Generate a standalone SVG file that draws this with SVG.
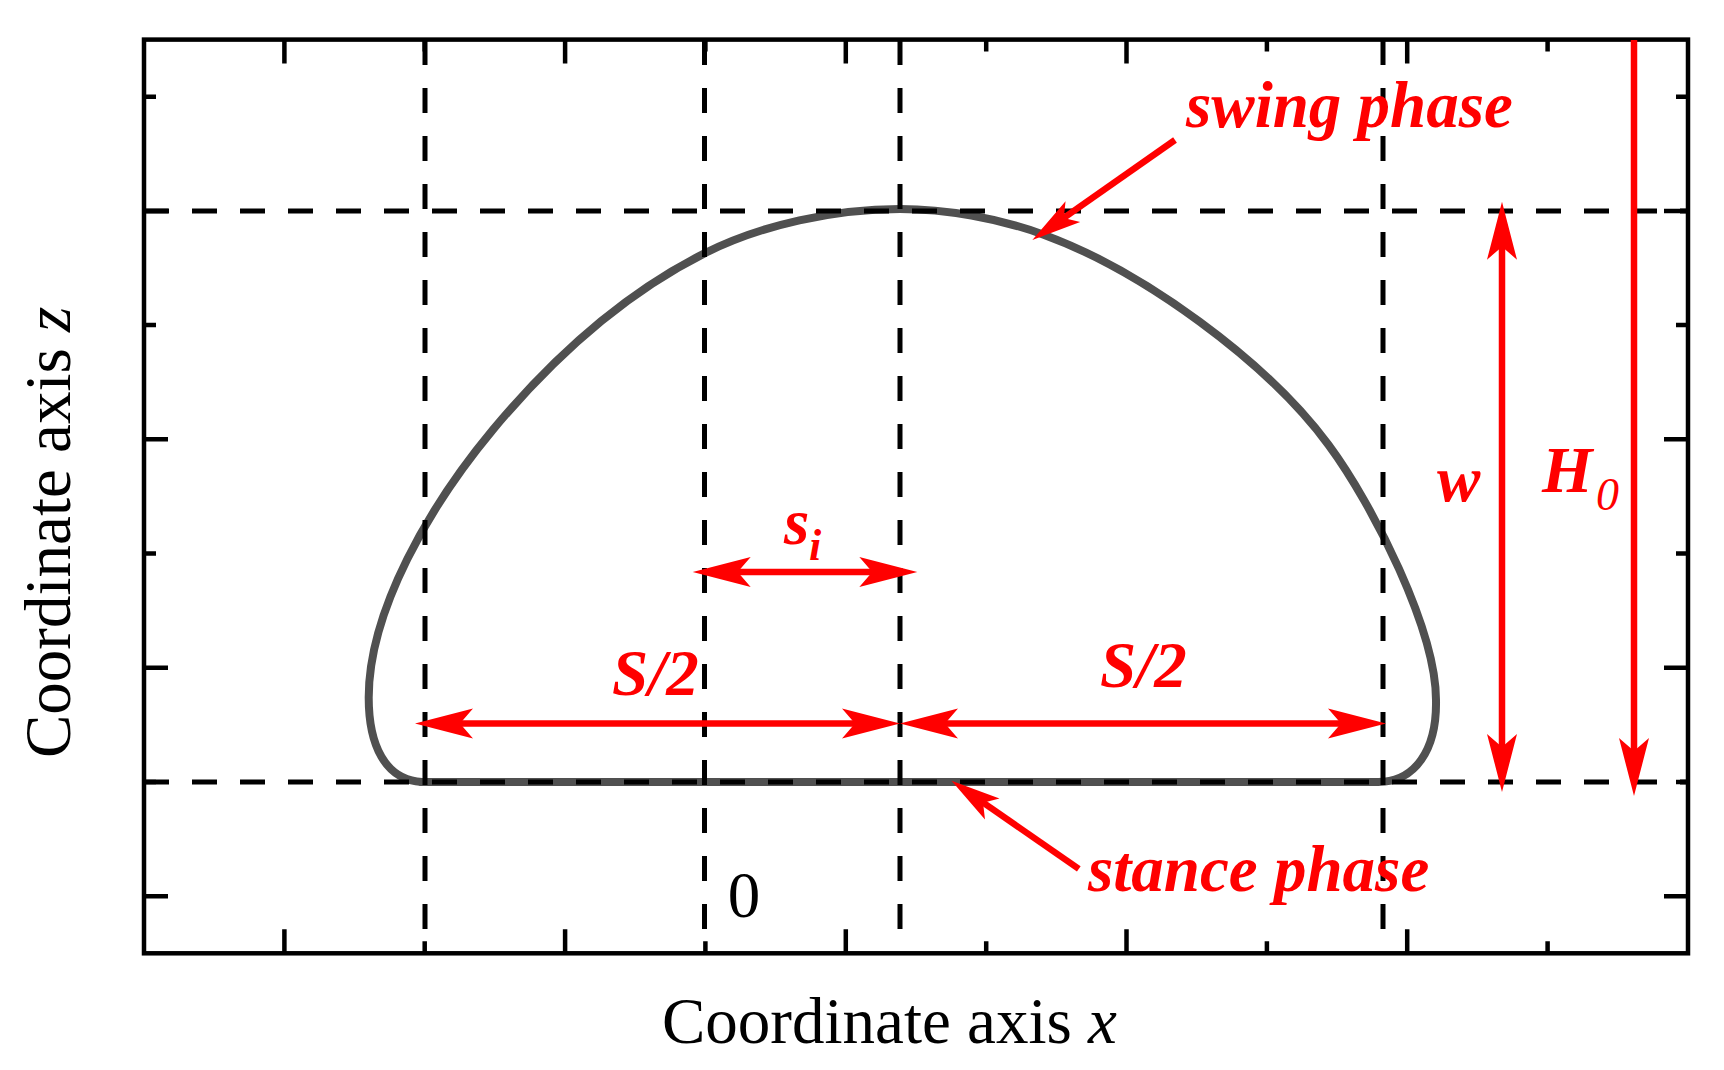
<svg xmlns="http://www.w3.org/2000/svg" width="1724" height="1070" viewBox="0 0 1724 1070">
<defs>
<style>
.tk{stroke:#000;stroke-width:4.5;fill:none}
.dash{stroke:#000;stroke-width:5;fill:none;stroke-dasharray:25 23}
.red{stroke:#ff0000;stroke-width:6.5;fill:none}
.lbl{font-family:"Liberation Serif","Times New Roman",serif;font-weight:bold;font-style:italic;fill:#ff0000;font-size:65px}
.ax{font-family:"Liberation Serif","Times New Roman",serif;fill:#000;font-size:65px}
</style>
<marker id="ah" viewBox="-20 -16 62 32" refX="0" refY="0" markerWidth="62" markerHeight="32" markerUnits="userSpaceOnUse" orient="auto-start-reverse">
<path d="M41,0 L-17,-15 L-4,0 L-17,15 Z" fill="#ff0000"/>
</marker>
<marker id="ptr" viewBox="-20 -16 62 32" refX="0" refY="0" markerWidth="62" markerHeight="32" markerUnits="userSpaceOnUse" orient="auto">
<path d="M35,0 L-14.5,-12.75 L-3.4,0 L-14.5,12.75 Z" fill="#ff0000"/>
</marker>
</defs>
<rect width="1724" height="1070" fill="#fff"/>

<g id="curve">
<path d="M420,782 L1378,782 C1415,782 1437,750 1436,700 C1436,630 1373.2,505.3 1328.6,445 C1266.1,360.6 1141.7,270.3 1043,234.4 C997.9,218 945,209 900,209 C835,209 762,224.4 704,253.6 C621.8,295 551.9,359 493,429.6 C430.3,504.9 368.7,610 368.7,697.5 C368.7,745 385,780 422,782 Z" fill="none" stroke="#505050" stroke-width="8" stroke-linejoin="round"/>
</g>

<g id="grid">
<line class="dash" x1="144" y1="211" x2="1688" y2="211"/>
<line class="dash" x1="144" y1="782" x2="1688" y2="782"/>
<line class="dash" x1="425" y1="40" x2="425" y2="953"/>
<line class="dash" x1="704.5" y1="40" x2="704.5" y2="953"/>
<line class="dash" x1="900" y1="40" x2="900" y2="953"/>
<line class="dash" x1="1383" y1="40" x2="1383" y2="953"/>
</g>

<g id="frame">
<rect class="tk" x="144" y="39.6" width="1544" height="913.7"/>
<path class="tk" d="M284.4,953.3v-24M565.1,953.3v-24M845.8,953.3v-24M1126.5,953.3v-24M1407.2,953.3v-24
M424.7,953.3v-12M705.4,953.3v-12M986.2,953.3v-12M1266.9,953.3v-12M1547.6,953.3v-12
M284.4,39.6v24M565.1,39.6v24M845.8,39.6v24M1126.5,39.6v24M1407.2,39.6v24
M424.7,39.6v12M705.4,39.6v12M986.2,39.6v12M1266.9,39.6v12M1547.6,39.6v12
M144,211h24M144,439.3h24M144,667.8h24M144,896.2h24
M144,96.7h12M144,325.1h12M144,553.5h12M144,782h12
M1688,211h-24M1688,439.3h-24M1688,667.8h-24M1688,896.2h-24
M1688,96.7h-12M1688,325.1h-12M1688,553.5h-12M1688,782h-12"/>
</g>

<g id="connectors">
<line id="arrow-S2-left" class="red" x1="456" y1="723.5" x2="859" y2="723.5" marker-start="url(#ah)" marker-end="url(#ah)"/>
<line id="arrow-S2-right" class="red" x1="941" y1="723.5" x2="1345" y2="723.5" marker-start="url(#ah)" marker-end="url(#ah)"/>
<line id="arrow-si" class="red" x1="733.7" y1="572" x2="876.3" y2="572" marker-start="url(#ah)" marker-end="url(#ah)"/>
<line id="arrow-w" class="red" x1="1502" y1="242.7" x2="1502" y2="751" marker-start="url(#ah)" marker-end="url(#ah)"/>
<line id="arrow-H0" class="red" x1="1634" y1="40" x2="1634" y2="755" marker-end="url(#ah)"/>
<line id="arrow-swing" class="red" x1="1175" y1="140" x2="1061" y2="219.9" marker-end="url(#ptr)"/>
<line id="arrow-stance" class="red" x1="1078.8" y1="868.8" x2="980.3" y2="800.7" marker-end="url(#ptr)"/>
</g>

<g id="labels">
<text id="t-swing" class="lbl" x="1186" y="127">swing phase</text>
<text id="t-stance" class="lbl" x="1088" y="891">stance phase</text>
<text id="t-S2-left" class="lbl" x="612" y="695">S/2</text>
<text id="t-S2-right" class="lbl" x="1100" y="687">S/2</text>
<text id="t-si" class="lbl" x="784" y="544">s<tspan x="809" y="560" font-size="44">i</tspan></text>
<text id="t-w" class="lbl" x="1437" y="501">w</text>
<text id="t-H0" class="lbl" x="1542" y="492">H<tspan x="1596" y="510" font-size="46" font-weight="normal">0</tspan></text>
<text id="t-zero" class="ax" x="744" y="917" text-anchor="middle" font-size="62">0</text>
<text id="t-xaxis" class="ax" x="662" y="1043">Coordinate axis <tspan font-style="italic">x</tspan></text>
<text id="t-zaxis" class="ax" transform="translate(70,758) rotate(-90)" x="0" y="0">Coordinate axis <tspan font-style="italic">z</tspan></text>
</g>
</svg>
